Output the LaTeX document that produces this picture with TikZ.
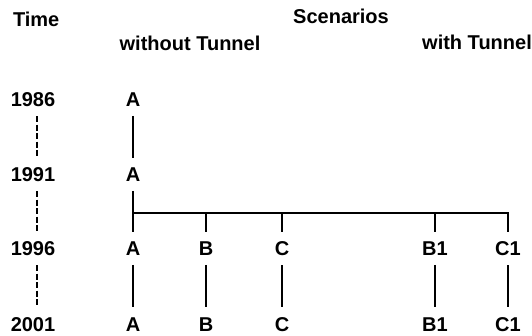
\documentclass[tikz,border=0pt]{standalone}
\usepackage{fontspec}
\setmainfont{Liberation Sans}
\begin{document}
\begin{tikzpicture}[x=1pt,y=-1pt,
  lbl/.style={inner sep=0pt,outer sep=0pt,anchor=base,font=\fontsize{20}{24}\selectfont\bfseries},
  solidln/.style={line width=1.6pt,shorten <=9pt,shorten >=10pt},
  timeln/.style={line width=2pt,dash pattern=on 6pt off 2.5pt,shorten <=9pt,shorten >=10pt},
  branch/.style={line width=1.6pt}]
\useasboundingbox (0,0) rectangle (532,336);
% headers
\node[lbl,anchor=base west] (time) at (13,27) {Time};
\node[lbl] (scen) at (341,24) {Scenarios};
\node[lbl] (without) at (190,51) {without Tunnel};
\node[lbl] (with) at (477,50) {with Tunnel};
% years
\node[lbl] (y1) at (33,107) {1986};
\node[lbl] (y2) at (33,182) {1991};
\node[lbl] (y3) at (33,256) {1996};
\node[lbl] (y4) at (33,331) {2001};
% scenario labels
\node[lbl] (a1) at (133,107) {A};
\node[lbl] (a2) at (133,182) {A};
\node[lbl] (a3) at (133,256) {A};
\node[lbl] (a4) at (133,331) {A};
\node[lbl] (b3) at (206,256) {B};
\node[lbl] (b4) at (206,331) {B};
\node[lbl] (c3) at (282,256) {C};
\node[lbl] (c4) at (282,331) {C};
\node[lbl] (bb3) at (435,256) {B1};
\node[lbl] (bb4) at (435,331) {B1};
\node[lbl] (cc3) at (508,256) {C1};
\node[lbl] (cc4) at (508,331) {C1};
% time axis
\draw[timeln] ([xshift=4pt]y1.south) -- ([xshift=4pt]y2.north);
\draw[timeln] ([xshift=4pt]y2.south) -- ([xshift=4pt]y3.north);
\draw[timeln] ([xshift=4pt]y3.south) -- ([xshift=4pt]y4.north);
% A line
\draw[solidln] (a1.south) -- (a2.north);
\draw[solidln] (a2.south) -- (a3.north);
\draw[solidln] (a3.south) -- (a4.north);
% branching
\coordinate (jA) at (133,213);
\coordinate (jB) at (b3 |- jA);
\coordinate (jC) at (c3 |- jA);
\coordinate (jBB) at (bb3 |- jA);
\coordinate (jCC) at (cc3 |- jA);
\draw[branch,line join=miter] (jA) -- (jCC) -- ([yshift=10pt]cc3.north);
\draw[branch] (jB) -- ([yshift=10pt]b3.north);
\draw[branch] (jC) -- ([yshift=10pt]c3.north);
\draw[branch] (jBB) -- ([yshift=10pt]bb3.north);
% later lines
\draw[solidln] (b3.south) -- (b4.north);
\draw[solidln] (c3.south) -- (c4.north);
\draw[solidln] (bb3.south) -- (bb4.north);
\draw[solidln] (cc3.south) -- (cc4.north);
\end{tikzpicture}
\end{document}
